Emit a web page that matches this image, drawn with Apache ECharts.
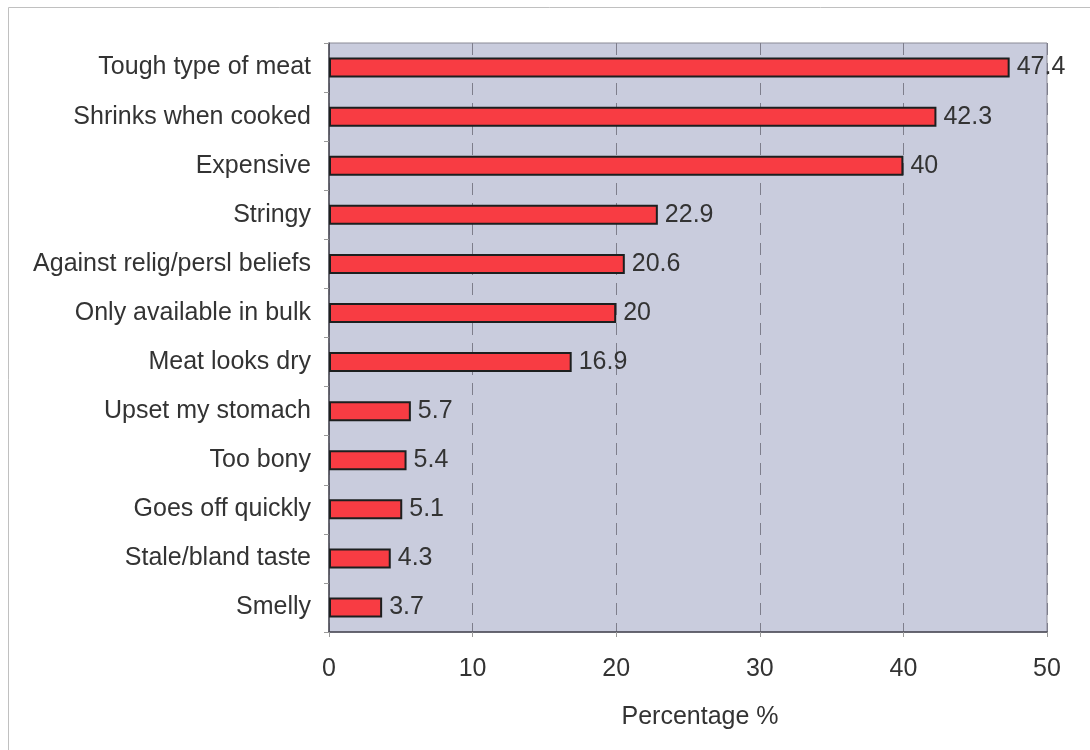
<!DOCTYPE html>
<html>
<head>
<meta charset="utf-8">
<script src="https://cdn.jsdelivr.net/npm/echarts@6/dist/echarts.min.js"></script>
<style>
  html, body { margin: 0; padding: 0; background: #ffffff; }
  #chart { width: 1090px; height: 750px; }
</style>
</head>
<body>
<div id="chart"></div>
<script>
// Reasons given for not buying the meat (% of respondents)
const reasons = [
  'Tough type of meat',
  'Shrinks when cooked',
  'Expensive',
  'Stringy',
  'Against relig/persl beliefs',
  'Only available in bulk',
  'Meat looks dry',
  'Upset my stomach',
  'Too bony',
  'Goes off quickly',
  'Stale/bland taste',
  'Smelly'
];
const percentages = [47.4, 42.3, 40, 22.9, 20.6, 20, 16.9, 5.7, 5.4, 5.1, 4.3, 3.7];
const xTicks = [0, 10, 20, 30, 40, 50];

const chart = echarts.init(document.getElementById('chart'), null, { renderer: 'canvas' });
const font = 'Liberation Sans, Arial, sans-serif';

chart.setOption({
  animation: false,
  backgroundColor: '#ffffff',
  graphic: [{
    type: 'rect',
    shape: { x: 8.5, y: 7.5, width: 1200, height: 900 },
    style: { fill: 'none', stroke: '#c0c0c0', lineWidth: 1 },
    silent: true,
    z: -1
  }],
  grid: {
    left: 329, right: 43, top: 43, bottom: 118,
    show: true,
    backgroundColor: '#c9ccdd',
    borderColor: '#8a8a96',
    borderWidth: 1
  },
  xAxis: {
    type: 'value',
    min: xTicks[0],
    max: xTicks[xTicks.length - 1],
    interval: xTicks[1] - xTicks[0],
    name: 'Percentage %',
    nameLocation: 'middle',
    nameGap: 73,
    nameTextStyle: {
      fontFamily: font, fontSize: 25, color: '#333333',
      verticalAlign: 'top', padding: [0, 0, 0, 24]
    },
    axisLine: { show: true, lineStyle: { color: '#4a4a55', width: 1.5 } },
    axisTick: { show: true, length: 5, lineStyle: { color: '#999999' } },
    axisLabel: { fontFamily: font, fontSize: 25, color: '#333333', margin: 25 },
    splitLine: { show: true, lineStyle: { color: '#7e7e8c', type: [12, 8], width: 1 } }
  },
  yAxis: {
    type: 'category',
    data: reasons,
    inverse: true,
    axisLine: { show: true, lineStyle: { color: '#4a4a55', width: 1.5 } },
    axisTick: { show: true, length: 5, lineStyle: { color: '#999999' } },
    axisLabel: {
      fontFamily: font, fontSize: 25, color: '#333333', margin: 18,
      padding: [3, 0, 0, 0]
    },
    splitLine: { show: false }
  },
  series: [{
    type: 'bar',
    data: percentages,
    barWidth: 20,
    itemStyle: {
      color: '#f83c43',
      borderColor: '#1c1f1f',
      borderWidth: 2
    },
    label: {
      show: true,
      position: 'right',
      distance: 7,
      padding: [3, 0, 0, 0],
      fontFamily: font,
      fontSize: 25,
      color: '#333333'
    }
  }]
});
</script>
</body>
</html>
